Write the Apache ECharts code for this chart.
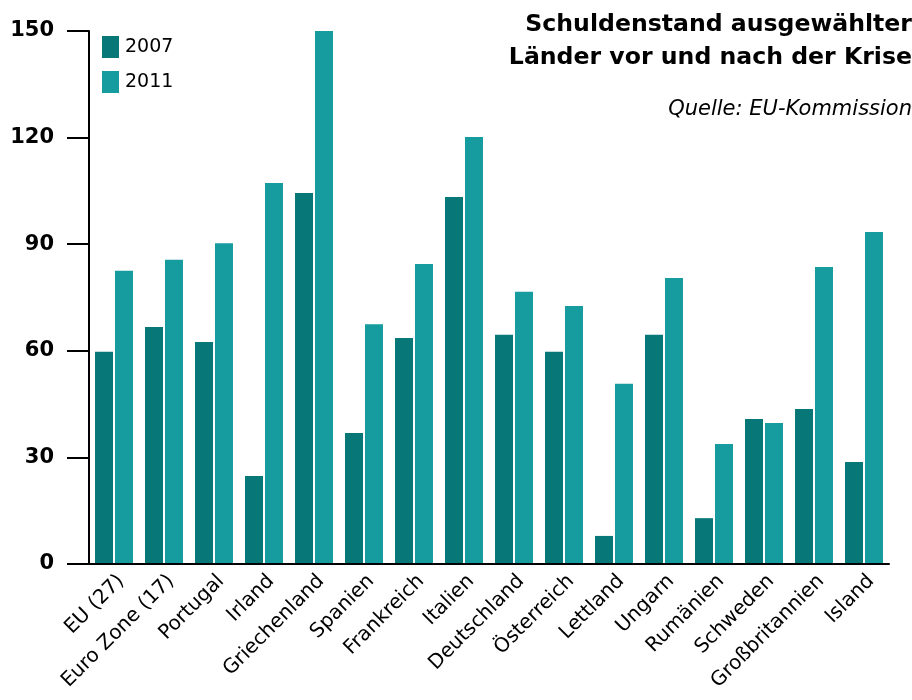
<!DOCTYPE html>
<html><head><meta charset="utf-8">
<script src="https://cdn.jsdelivr.net/npm/echarts@6/dist/echarts.min.js"></script>
<style>html,body{margin:0;padding:0;background:#fff}#c{width:912px;height:700px}</style>
</head><body><div id="c"></div>
<script>
const categories = ['EU (27)','Euro Zone (17)','Portugal','Irland','Griechenland','Spanien','Frankreich','Italien','Deutschland','Österreich','Lettland','Ungarn','Rumänien','Schweden','Großbritannien','Island'];
const values2007 = [59.7, 66.7, 62.5, 24.8, 104.4, 36.9, 63.6, 103.3, 64.5, 59.7, 7.9, 64.5, 12.9, 40.8, 43.6, 28.7];
const values2011 = [82.5, 85.6, 90.3, 107.2, 150, 67.5, 84.4, 120.2, 76.6, 72.6, 50.7, 80.5, 33.8, 39.7, 83.6, 93.4];
const yTicks = [0, 30, 60, 90, 120, 150];
const seriesNames = ['2007', '2011'];
const titleLines = ['Schuldenstand ausgewählter', 'Länder vor und nach der Krise'];
const sourceText = 'Quelle: EU-Kommission';

const FONT = '"DejaVu Sans", Verdana, sans-serif';
const titleStyle = {fontFamily: FONT, fontSize: 23.6, fontWeight: 'bold', color: '#000'};
const chart = echarts.init(document.getElementById('c'), null, {renderer: 'canvas'});
chart.setOption({
  animation: false,
  textStyle: {fontFamily: FONT},
  title: [
    {text: titleLines[0], right: -5, top: 8, textStyle: titleStyle},
    {text: titleLines[1], right: -5, top: 41, textStyle: titleStyle},
    {text: sourceText, right: -5, top: 94,
     textStyle: {fontFamily: FONT, fontSize: 21, fontStyle: 'italic', fontWeight: 'normal', color: '#000'}}
  ],
  legend: {
    orient: 'vertical', left: 97, top: 31, itemWidth: 17, itemHeight: 22, itemGap: 13,
    icon: 'rect', data: seriesNames,
    textStyle: {fontFamily: FONT, fontSize: 19, color: '#000', padding: [0, 0, 0, 1]}
  },
  grid: {left: 89, right: 23, top: 31, bottom: 136, containLabel: false},
  xAxis: {
    type: 'category', data: categories, boundaryGap: true, z: 5,
    axisLine: {lineStyle: {color: '#000', width: 2}},
    axisTick: {inside: true, length: 13, lineStyle: {color: '#000', width: 2}},
    axisLabel: {rotate: 45, interval: 0, margin: 7, color: '#000', fontFamily: FONT, fontSize: 20,
      verticalAlign: 'top'}
  },
  yAxis: {
    type: 'value', min: 0, max: 150, interval: 30,
    splitLine: {show: false},
    axisLine: {show: true, lineStyle: {color: '#000', width: 2}},
    axisTick: {show: true, length: 22, lineStyle: {color: '#000', width: 2}},
    axisLabel: {margin: 35, color: '#000', fontFamily: FONT, fontSize: 21, fontWeight: 'bold',
      padding: [0, 0, 9, 0],
      formatter: v => yTicks.includes(v) ? String(v) : ''}
  },
  series: [
    {name: seriesNames[0], type: 'bar', data: values2007, barWidth: 18, barGap: '11%',
     itemStyle: {color: '#077777'}},
    {name: seriesNames[1], type: 'bar', data: values2011, barWidth: 18, barGap: '11%',
     itemStyle: {color: '#169b9e'}}
  ]
});
</script></body></html>
